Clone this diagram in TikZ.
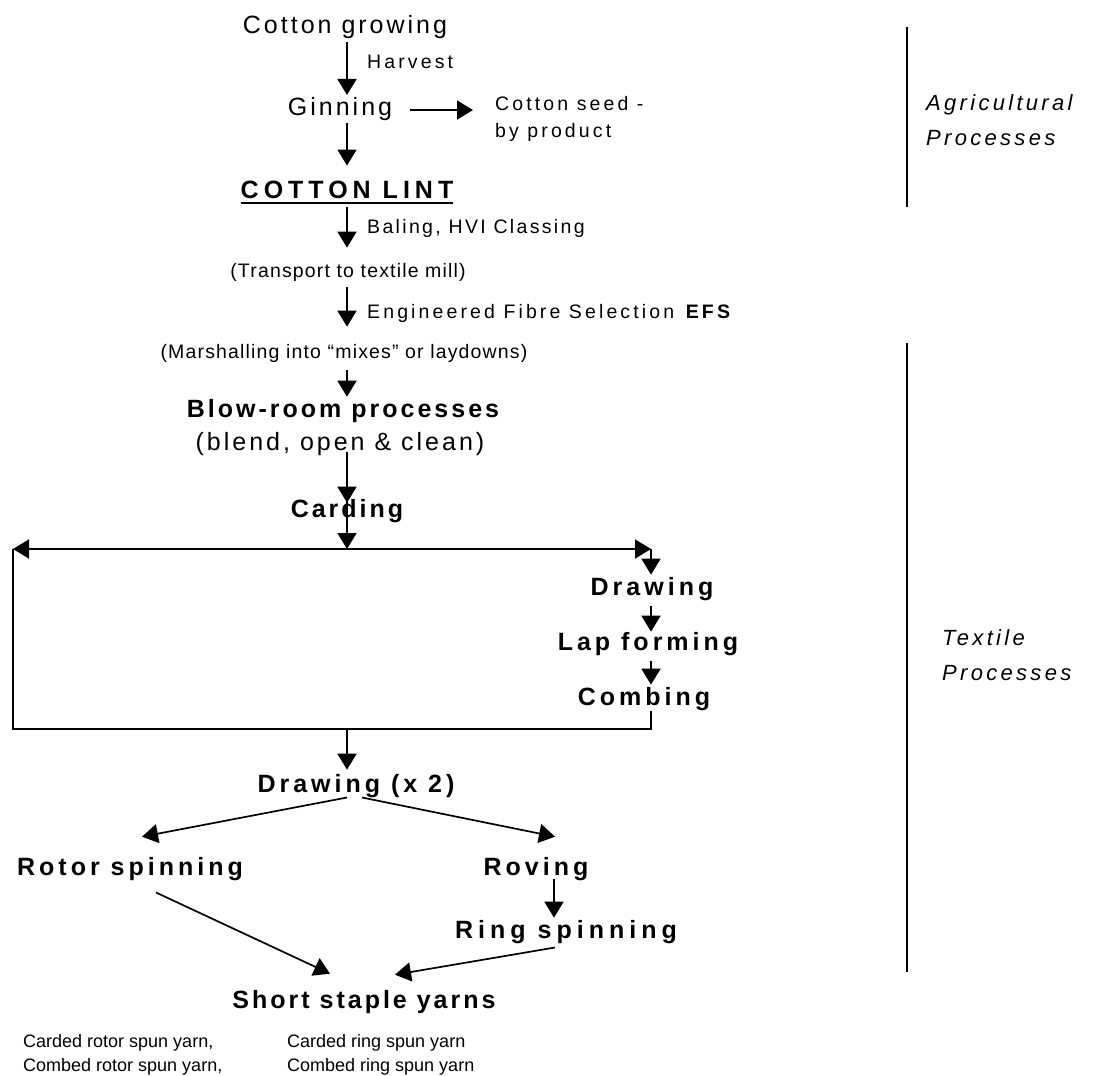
\documentclass[tikz,border=0pt]{standalone}
\usepackage{fontspec}
\setmainfont{Liberation Sans}
% Liberation Sans with several amounts of tracking
\newfontfamily\lsA{Liberation Sans}
\newfontfamily\lsB[LetterSpace=6]{Liberation Sans}
\newfontfamily\lsC[LetterSpace=12]{Liberation Sans}
\newfontfamily\lsD[LetterSpace=16]{Liberation Sans}
\newfontfamily\lsE[LetterSpace=20]{Liberation Sans}
\newfontfamily\sidefont[LetterSpace=15]{Liberation Sans}
\usetikzlibrary{arrows.meta}
\begin{document}
\begin{tikzpicture}[x=1pt,y=-1pt,
  lbl/.style={inner sep=0pt, anchor=base},
  big/.style={lbl, font=\lsC\fontsize{25}{30}\selectfont},
  bigb/.style={lbl, font=\lsD\bfseries\fontsize{25}{30}\selectfont},
  small/.style={inner sep=0pt, anchor=base west, font=\lsC\fontsize{19.5}{24}\selectfont},
  smallw/.style={small, font=\lsD\fontsize{19.5}{24}\selectfont},
  smalln/.style={lbl, font=\lsB\fontsize{19.5}{24}\selectfont},
  yarn/.style={inner sep=0pt, anchor=base west, font=\lsA\fontsize{18}{22}\selectfont},
  side/.style={inner sep=0pt, anchor=base west, font=\sidefont\itshape\fontsize{22}{26}\selectfont},
  link/.style={line width=1.7pt},
  arr/.style={link, -{Triangle[length=16pt,width=19pt]}}]
\useasboundingbox[fill=white] (0,0) rectangle (1098,1076);

% --- process labels ---
\node[big] (grow) at (345,33) {Cotton growing};
\node[smallw] (harv) at (367,68) {Harvest};
\node[big] (gin) at (340,115) {Ginning};
\node[smallw] (seed) at (495,110) {Cotton seed -};
\node[smallw] (seed2) at (495,137) {by product};
\node[lbl, font=\lsE\bfseries\fontsize{25}{30}\selectfont] (lint) at (347,198) {COTTON LINT};
\node[small] (bal) at (367,233) {Baling, HVI Classing};
\node[smalln] (trans) at (348,277) {(Transport to textile mill)};
\node[smallw] (efs) at (367,318) {Engineered Fibre Selection \textbf{EFS}};
\node[smalln] (mar) at (344,358) {(Marshalling into “mixes” or laydowns)};
\node[lbl, font=\lsC\bfseries\fontsize{25}{30}\selectfont] (blow) at (343,417) {Blow-room processes};
\node[big] (blend) at (340,450) {(blend, open \& clean)};
\node[lbl, font=\lsC\bfseries\fontsize{25}{30}\selectfont] (card) at (347,517) {Carding};
\node[bigb] (dr1) at (652,595) {Drawing};
\node[bigb] (lap) at (648,650) {Lap forming};
\node[bigb] (comb) at (644,705) {Combing};
\node[bigb] (dr2) at (356,792) {Drawing (x 2)};
\node[bigb] (rotor) at (130,875) {Rotor spinning};
\node[bigb] (rov) at (536,875) {Roving};
\node[lbl, font=\lsE\bfseries\fontsize{25}{30}\selectfont] (ring) at (566,938) {Ring spinning};
\node[lbl, font=\lsC\bfseries\fontsize{25}{30}\selectfont] (short) at (364,1008) {Short staple yarns};
\node[yarn] (y1) at (23,1047) {Carded rotor spun yarn,};
\node[yarn] (y2) at (23,1071) {Combed rotor spun yarn,};
\node[yarn] (y3) at (287,1047) {Carded ring spun yarn};
\node[yarn] (y4) at (287,1071) {Combed ring spun yarn};

% --- stage labels with their brackets ---
\node[side] (ag1) at (926,110) {Agricultural};
\node[side] (ag2) at (926,145) {Processes};
\node[side] (tx1) at (942,645) {Textile};
\node[side] (tx2) at (942,680) {Processes};
\draw[link] (907,27) -- (907,207);
\draw[link] (907,343) -- (907,972);

% --- junction points of the carding/combing loop ---
\coordinate (ax) at (347,0);
\coordinate (hub) at (347,549);
\coordinate (lt) at (13,549);
\coordinate (rt) at (651,549);
\coordinate (lb) at (13,729);
\coordinate (rb) at (651,729);
\coordinate (bhub) at (347,729);

% --- connectors ---
\draw[arr, shorten <=3.7pt, shorten >=1.7pt] (grow.south -| ax) -- (gin.north -| ax);
\draw[arr, shorten <=18pt, shorten >=22pt] ([yshift=-1.5pt]gin.east) -- ([yshift=-1.5pt]gin.east -| seed.west);
\draw[arr, shorten <=2.7pt, shorten >=14.8pt] (gin.south -| ax) -- (lint.north -| ax);
\draw[line width=2.2pt] ([yshift=-5pt]lint.base west) -- ([yshift=-5pt]lint.base east);
\draw[arr, shorten <=9pt, shorten >=15pt] (lint.south -| ax) -- (trans.north -| ax);
\draw[arr, shorten <=6pt, shorten >=17pt] (trans.south -| ax) -- (mar.north -| ax);
\draw[arr, shorten <=8pt, shorten >=2pt] (mar.south -| ax) -- (blow.north -| ax);
\draw[arr, shorten <=-3pt, shorten >=-4pt] (blend.south -| ax) -- (card.north -| ax);
\draw[arr, shorten <=-4pt] (card.north -| hub) -- (hub);
\draw[arr] (hub) -- (lt);
\draw[arr] (hub) -- (rt);
\draw[arr, shorten >=2pt] (rt) -- (dr1.north -| rt);
\draw[arr, shorten <=5pt] (dr1.south -| rt) -- (lap.north -| rt);
\draw[arr, shorten <=5pt, shorten >=2pt] (lap.south -| rt) -- (comb.north -| rt);
\draw[link] (comb.south -| rt) -- (rb) -- (lb) -- (lt);
\draw[arr, shorten >=4pt] (bhub) -- (dr2.north -| bhub);
\draw[arr] (dr2.south -| hub) -- ([xshift=12pt,yshift=20pt]rotor.north);
\draw[arr] ([xshift=6pt]dr2.south) -- ([xshift=19pt,yshift=20pt]rov.north);
\draw[arr, shorten <=-2pt, shorten >=2pt] ([xshift=18pt]rov.south) -- ([xshift=18pt]rov.south |- ring.north);
\draw[arr] ([xshift=26pt,yshift=-12pt]rotor.south) -- ([xshift=-34pt,yshift=16pt]short.north);
\draw[arr] ([xshift=-11pt,yshift=-4pt]ring.south) -- ([xshift=31pt,yshift=15pt]short.north);
\end{tikzpicture}
\end{document}
